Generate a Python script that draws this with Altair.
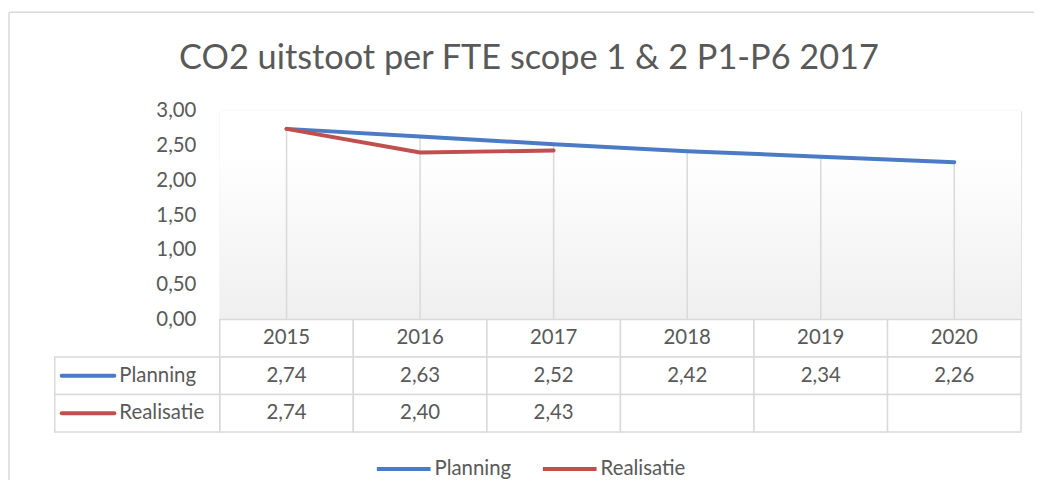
import altair as alt
import pandas as pd

# ---------------- data ----------------
years = ["2015", "2016", "2017", "2018", "2019", "2020"]
planning = [2.74, 2.63, 2.52, 2.42, 2.34, 2.26]
realisatie = [2.74, 2.40, 2.43, None, None, None]
series = ["Planning", "Realisatie"]
colors = ["#4A7BC4", "#C0504D"]
y_ticks = [0, 0.5, 1.0, 1.5, 2.0, 2.5, 3.0]
title_text = "CO2 uitstoot per FTE scope 1 & 2 P1-P6 2017"
header_row = "header"

# ---------------- style / layout ----------------
W, H = 806, 210
FONT = "Lato"
TXT = "#595959"
GRID = "#D9D9D9"
FS = 20.5


def fmt(v):
    return "" if v is None else f"{v:.2f}".replace(".", ",")


values = {"Planning": planning, "Realisatie": realisatie}

line_df = pd.DataFrame(
    [
        {"year": y, "series": s, "value": v}
        for s in series
        for y, v in zip(years, values[s])
        if v is not None
    ]
)

drop_df = pd.DataFrame(
    [
        {"year": y, "top": max(v for v in (p, r) if v is not None)}
        for y, p, r in zip(years, planning, realisatie)
    ]
)

table_rows = [{"row": header_row, "year": y, "text": y} for y in years]
for s in series:
    table_rows += [{"row": s, "year": y, "text": fmt(v)} for y, v in zip(years, values[s])]
table_df = pd.DataFrame(table_rows)

label_df = pd.DataFrame({"row": series, "series": series})
one = pd.DataFrame({"k": [0]})
title_df = pd.DataFrame({"title": [title_text]})

# ---------------- encodings ----------------
X = alt.X(
    "year:N",
    sort=years,
    scale=alt.Scale(type="band", domain=years, paddingInner=0, paddingOuter=0),
    axis=None,
)
yscale = alt.Scale(domain=[0, 3], nice=False, zero=True)
yaxis = alt.Axis(
    values=y_ticks,
    labelExpr="replace(format(datum.value, '.2f'), '.', ',')",
    title=None,
    domain=False,
    ticks=False,
    grid=False,
    labelOverlap=False,
    labelFont=FONT,
    labelFontSize=FS,
    labelColor=TXT,
    labelPadding=24,
)
cscale = alt.Scale(domain=series, range=colors)
rowY = alt.Y(
    "row:N",
    sort=[header_row] + series,
    scale=alt.Scale(
        type="band", domain=[header_row] + series, range=[H, H + 113],
        paddingInner=0, paddingOuter=0,
    ),
    axis=None,
)

# ---------------- main plot ----------------
gradient = alt.LinearGradient(
    gradient="linear",
    stops=[
        alt.GradientStop(offset=0, color="#FFFFFF"),
        alt.GradientStop(offset=0.2, color="#FFFFFF"),
        alt.GradientStop(offset=1, color="#EFEFEF"),
    ],
    x1=0, x2=0, y1=0, y2=1,
)
bg = alt.Chart(one).mark_rect(fill=gradient).encode(
    x=alt.value(0), x2=alt.value(W), y=alt.value(0), y2=alt.value(H)
)

border_top = alt.Chart(one).mark_rule(color=GRID, strokeWidth=1.5).encode(
    x=alt.value(-212), x2=alt.value(822), y=alt.value(-99)
)
border_left = alt.Chart(one).mark_rule(color=GRID, strokeWidth=1.5).encode(
    x=alt.value(-212), y=alt.value(-99), y2=alt.value(372)
)

title = alt.Chart(title_df).mark_text(
    font=FONT, fontSize=34.5, color=TXT, align="center", baseline="alphabetic"
).encode(x=alt.value(311), y=alt.value(-42), text="title:N")

drop = alt.Chart(drop_df).mark_rule(color=GRID, strokeWidth=1.5).encode(
    x=X,
    y=alt.Y("top:Q", scale=yscale, axis=yaxis),
    y2=alt.datum(0),
)

lines = alt.Chart(line_df).mark_line(
    strokeWidth=4, strokeCap="round", strokeJoin="round"
).encode(
    x=X,
    y=alt.Y("value:Q", scale=yscale, axis=yaxis),
    color=alt.Color(
        "series:N",
        scale=cscale,
        legend=alt.Legend(
            orient="none",
            legendX=156,
            legendY=331,
            direction="horizontal",
            title=None,
            symbolType="stroke",
            symbolSize=2916,
            symbolStrokeWidth=4,
            labelFont=FONT,
            labelFontSize=FS,
            labelColor=TXT,
            labelOffset=2,
            columnPadding=23,
        ),
    ),
)

main = alt.layer(bg, border_top, border_left, title, drop, lines)

# ---------------- data table ----------------
cells = alt.Chart(table_df).mark_rect(
    fill="white", stroke=GRID, strokeWidth=1.5
).encode(x=X, y=rowY)
cell_text = alt.Chart(table_df).mark_text(
    font=FONT, fontSize=FS, color=TXT
).encode(x=X, y=rowY, text="text:N")
label_cells = alt.Chart(label_df).mark_rect(
    fill="white", stroke=GRID, strokeWidth=1.5
).encode(x=alt.value(-166), x2=alt.value(0), y=rowY)
label_sym = alt.Chart(label_df).mark_rule(strokeWidth=4, strokeCap="round").encode(
    x=alt.value(-159), x2=alt.value(-106), y=rowY,
    color=alt.Color("series:N", scale=cscale, legend=None),
)
label_text = alt.Chart(label_df).mark_text(
    font=FONT, fontSize=FS, color=TXT, align="left"
).encode(x=alt.value(-101), y=rowY, text="row:N")

table = alt.layer(cells, cell_text, label_cells, label_sym, label_text)

chart = (
    alt.layer(main, table)
    .resolve_scale(y="independent")
    .properties(
        width=W,
        height=H,
        autosize=alt.AutoSizeParams(type="none"),
        padding={"left": 213, "top": 102, "right": 13, "bottom": 160},
    )
    .configure_view(stroke=None)
    .configure(background="white")
)

chart.save("out.html", embed_options={"renderer": "svg", "actions": False})
